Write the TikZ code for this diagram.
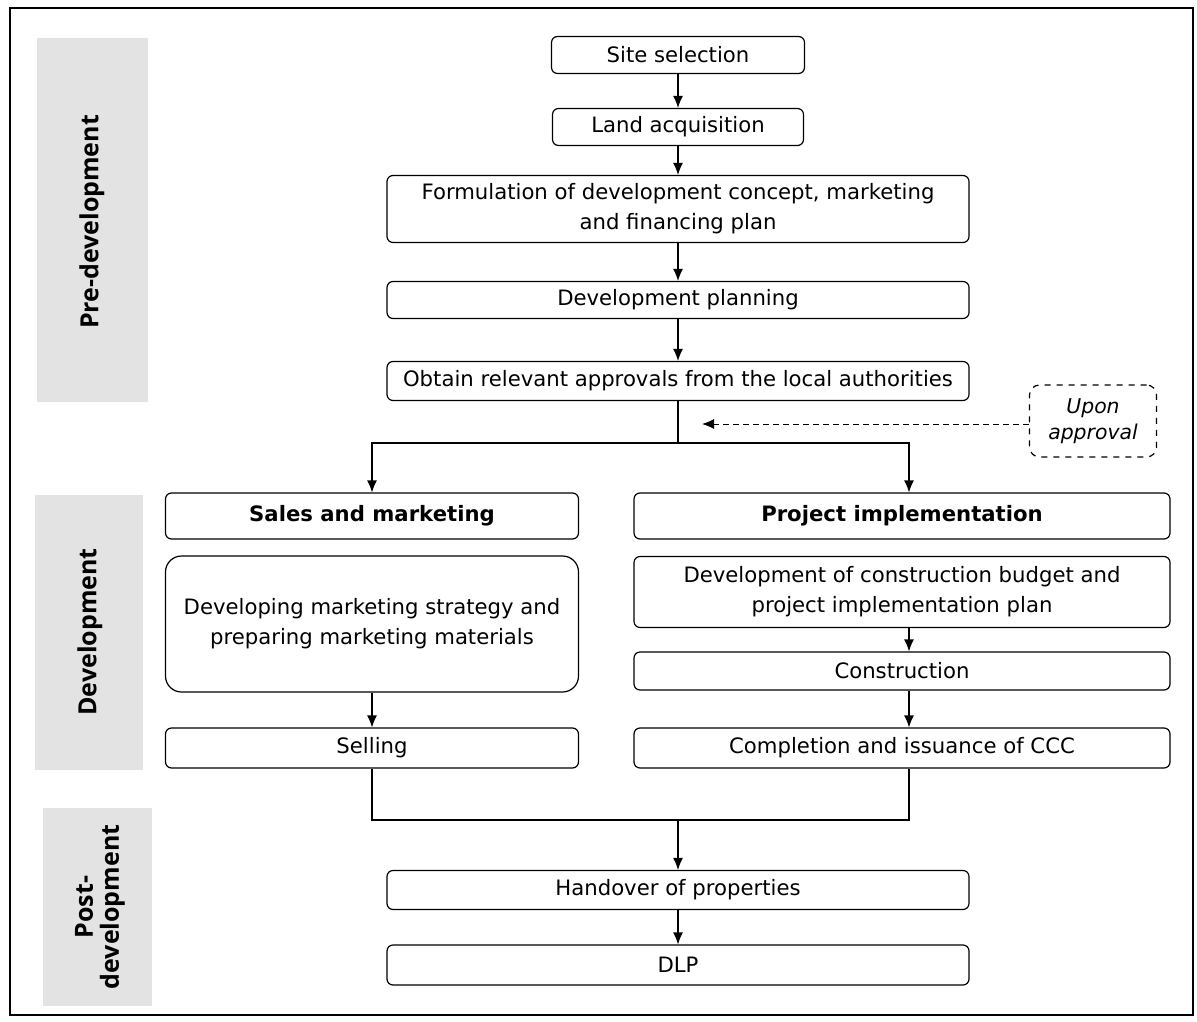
\documentclass[tikz,border=0pt]{standalone}
\usepackage{fontspec}
\setmainfont{DejaVu Sans}
\newfontfamily\bandfont{Open Sans}
\usetikzlibrary{arrows.meta}

\tikzset{
  stage/.style={draw, rounded corners=3pt, line width=0.6pt, align=center,
    inner sep=0pt, font=\fontsize{10.6}{15}\selectfont},
  bigstage/.style={stage, rounded corners=8pt},
  head/.style={stage, font=\fontsize{10.6}{13}\selectfont\bfseries},
  bandtext/.style={rotate=90, align=center, font=\fontsize{12.5}{13}\bandfont\bfseries},
  flow/.style={line width=0.6pt, -{Latex[length=6pt,width=5pt]}},
  link/.style={line width=0.6pt},
  note/.style={draw, dashed, rounded corners=5pt, line width=0.6pt, align=center,
    inner sep=0pt, font=\fontsize{10.2}{13}\selectfont\itshape},
}

\begin{document}
\begin{tikzpicture}[x=0.5pt, y=-0.5pt]
\useasboundingbox (0,0) rectangle (1197,1021);
\draw[line width=0.8pt] (10,8) rectangle (1193,1015);

% phases
\fill[black!11] (37,38) rectangle (148,402);
\node[bandtext] (pre) at (92,222) {Pre-development};
\fill[black!11] (35,495) rectangle (143,770);
\node[bandtext] (dev) at (90,632) {Development};
\fill[black!11] (43,808) rectangle (152,1006);
\node[bandtext] (post) at (100,907) {Post-\\development};

% pre-development
\node[stage, minimum width=126.5pt, minimum height=18.5pt] (site) at (678,55) {Site selection};
\node[stage, minimum width=125.5pt, minimum height=18.5pt] (land) at (678,127) {Land acquisition};
\node[stage, minimum width=291pt, minimum height=33.5pt] (concept) at (678,209)
  {Formulation of development concept, marketing\\and financing plan};
\node[stage, minimum width=291pt, minimum height=18.5pt] (planning) at (678,300) {Development planning};
\node[stage, minimum width=291pt, minimum height=19.5pt] (approval) at (678,381)
  {Obtain relevant approvals from the local authorities};
\node[note, minimum width=63.5pt, minimum height=36pt] (upon) at (1093,421) {Upon\\approval};

% development
\node[head, minimum width=206.5pt, minimum height=23pt] (sales) at (372,516) {Sales and marketing};
\node[head, minimum width=268pt, minimum height=23pt] (impl) at (902,516) {Project implementation};
\node[bigstage, minimum width=206.5pt, minimum height=68pt] (strategy) at (372,624)
  {Developing marketing strategy and\\preparing marketing materials};
\node[stage, minimum width=268pt, minimum height=35.5pt] (budget) at (902,592)
  {Development of construction budget and\\project implementation plan};
\node[stage, minimum width=268pt, minimum height=19pt] (construct) at (902,671) {Construction};
\node[stage, minimum width=206.5pt, minimum height=20pt] (selling) at (372,748) {Selling};
\node[stage, minimum width=268pt, minimum height=20pt] (ccc) at (902,748) {Completion and issuance of CCC};

% post-development
\node[stage, minimum width=291pt, minimum height=19.5pt] (handover) at (678,890) {Handover of properties};
\node[stage, minimum width=291pt, minimum height=20pt] (dlp) at (678,965) {DLP};

\coordinate (split) at (678,443);
\coordinate (hit) at (702,424);
\coordinate (join) at (678,820);

\draw[flow] (site) -- (land);
\draw[flow] (land) -- (concept);
\draw[flow] (concept) -- (planning);
\draw[flow] (planning) -- (approval);
\draw[link] (approval) -- (split);
\draw[flow] (split) -| (sales);
\draw[flow] (split) -| ([xshift=3.5pt]impl.north);
\draw[flow, densely dashed, line width=0.5pt] (upon.west |- hit) -- (hit);
\draw[flow] (strategy) -- (selling);
\draw[flow] ([xshift=3.5pt]budget.south) -- ([xshift=3.5pt]construct.north);
\draw[flow] ([xshift=3.5pt]construct.south) -- ([xshift=3.5pt]ccc.north);
\draw[link] (selling) |- (join);
\draw[link] ([xshift=3.5pt]ccc.south) |- (join);
\draw[flow] (join) -- (handover);
\draw[flow] (handover) -- (dlp);
\end{tikzpicture}
\end{document}
